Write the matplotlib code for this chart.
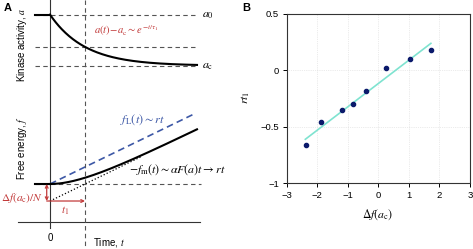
import numpy as np
import matplotlib
matplotlib.use("Agg")
import matplotlib.pyplot as plt

plt.rcParams["font.family"] = ["Liberation Sans", "DejaVu Sans"]
plt.rcParams["mathtext.fontset"] = "stix"
plt.rcParams["font.size"] = 6.5

# ============================================================
# DATA
# ============================================================

# panel A: schematic parameters (t in units of tau1)
tau1 = 1.0
a_0 = 4.84          # kinase activity before the step
a_c = 3.38          # kinase activity after adaptation
r = 0.486           # free energy slope
df_N = r * tau1     # offset of the asymptote, Delta f(a_c)/N
t_pre = [-0.43, 0.0]
t_end = 4.2

# panel B: measured points
df_ac = [-2.37, -1.89, -1.18, -0.83, -0.40, 0.25, 1.03, 1.71]
rt1 = [-0.66, -0.46, -0.35, -0.30, -0.18, 0.02, 0.10, 0.18]
fit_x = [-2.39, 1.72]
fit_y = [-0.61, 0.24]

x_ticks = [-3, -2, -1, 0, 1, 2, 3]
y_ticks = [-1, -0.5, 0, 0.5]
y_tick_labels = ["\u22121", "\u22120.5", "0", "0.5"]

red = "#c23b3b"
blue = "#3d58a6"
dash_grey = "#555555"

fig = plt.figure(figsize=(4.73, 2.49), dpi=100)

# ============================================================
# PANEL A
# ============================================================

axA = fig.add_axes([0, 0, 240 / 473, 1])
axA.set_xlim(-50 / 35, 190 / 35)
axA.set_ylim((184 - 249) / 35, 184 / 35)
axA.axis("off")

t = np.linspace(0, t_end, 200)
a_t = a_c + (a_0 - a_c) * np.exp(-t / tau1)
a_tau = a_c + (a_0 - a_c) * np.exp(-1)
f_t = r * t - df_N * (1 - np.exp(-t / tau1))

dash = dict(color=dash_grey, lw=0.8, dashes=(4, 3))

# axes lines
axA.plot([0, 0], [5.26, -1.26], color="#333333", lw=0.8)
axA.plot([-0.92, 4.29], [-1.08, -1.08], color="#333333", lw=0.8)
axA.plot([tau1, tau1], [5.26, -1.85], **dash)

# kinase activity
for lev in [a_0, a_tau, a_c]:
    axA.plot([t_pre[0], t_end], [lev, lev], **dash)
axA.plot(t_pre, [a_0, a_0], color="black", lw=1.5)
axA.plot(t, a_t, color="black", lw=1.5)

# free energy
axA.plot([t_pre[0], 4.3], [0, 0], **dash)
axA.plot(t_pre, [0, 0], color="black", lw=1.5)
t_l = np.linspace(0, 4.15, 50)
axA.plot(t_l, r * t_l, color=blue, lw=1.2, dashes=(4, 2.5))
t_d = np.linspace(0, 2.6, 50)
axA.plot(t_d, r * t_d - df_N, color="black", lw=0.9, ls=":")
axA.plot(t, f_t, color="black", lw=1.5)

# red annotations
axA.annotate("", xy=(-0.094, 0), xytext=(-0.094, -df_N),
             arrowprops=dict(arrowstyle="<->", color=red, lw=0.9,
                             shrinkA=0, shrinkB=0, mutation_scale=5))
axA.annotate("", xy=(tau1, -df_N), xytext=(-0.094, -df_N),
             arrowprops=dict(arrowstyle="->", color=red, lw=0.9,
                             shrinkA=0, shrinkB=0, mutation_scale=5))
axA.text(-0.2, -0.39, r"$\Delta f(a_\mathrm{c})/N$", color=red,
         ha="right", va="center", fontsize=8.2)
axA.text(0.43, -0.77, r"$t_1$", color=red, ha="center", va="center",
         fontsize=8)
axA.text(2.17, 4.37, r"$a(t)\!-\!a_\mathrm{c} \sim e^{-t/\tau_1}$",
         color=red, ha="center", va="center", fontsize=7.7)

# labels
axA.text(2.63, 1.83, r"$f_\mathrm{L}(t) \sim rt$", color=blue,
         ha="center", va="center", fontsize=8.8)
axA.text(3.63, 0.40, r"$-f_\mathrm{m}(t) \sim \alpha F(a)t \rightarrow rt$",
         color="black", ha="center", va="center", fontsize=8.6)
axA.text(4.33, a_0, r"$a_0$", ha="left", va="center", fontsize=8.5)
axA.text(4.33, a_c, r"$a_\mathrm{c}$", ha="left", va="center", fontsize=8.5)
axA.text(-0.81, 3.97, "Kinase activity, $a$", rotation=90,
         ha="center", va="center", fontsize=7)
axA.text(-0.81, 1.04, "Free energy, $f$", rotation=90,
         ha="center", va="center", fontsize=7)
axA.text(0, -1.53, "0", ha="center", va="center", fontsize=7)
axA.text(1.22, -1.66, "Time, $t$", ha="left", va="center", fontsize=7)

fig.text(8 / 473, 1 - 8 / 249, "A", fontsize=8, fontweight="bold",
         ha="center", va="center")

# ============================================================
# PANEL B
# ============================================================

axB = fig.add_axes([286.7 / 473, 65.7 / 249, 183.3 / 473, 169.3 / 249])
axB.plot(fit_x, fit_y, color="#7fe3d0", lw=1.2, zorder=2)
axB.scatter(df_ac, rt1, s=9, color="#0b1a6b", zorder=3)
axB.set_xlim(-3, 3)
axB.set_ylim(-1, 0.5)
axB.set_xticks(x_ticks)
axB.set_xticklabels(["\u2212" + str(-v) if v < 0 else str(v) for v in x_ticks])
axB.set_yticks(y_ticks)
axB.set_yticklabels(y_tick_labels)
axB.grid(True, color="#d8d8d8", lw=0.5, ls=":")
axB.tick_params(direction="out", length=3, width=0.7, pad=2.5,
                labelsize=6.8, top=False, right=False)
for sp in axB.spines.values():
    sp.set_linewidth(0.8)
    sp.set_color("#333333")

fig.text(246 / 473, 1 - 97 / 249, r"$rt_1$", rotation=90,
         ha="center", va="center", fontsize=8.5)
fig.text(378 / 473, 1 - 215 / 249, r"$\Delta f(a_\mathrm{c})$",
         ha="center", va="center", fontsize=8.5)
fig.text(246 / 473, 1 - 8 / 249, "B", fontsize=8, fontweight="bold",
         ha="center", va="center")

fig.savefig("out.png", dpi=100)
